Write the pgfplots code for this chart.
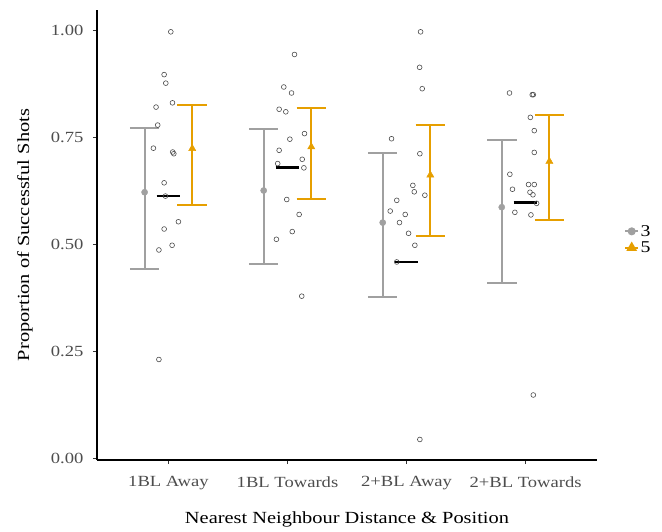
\documentclass[border=0pt]{standalone}
\usepackage{pgfplots}
\pgfplotsset{compat=1.18}
\usepackage{fontspec}
\setmainfont{Liberation Serif}[FakeStretch=1.2]
\definecolor{grey3}{HTML}{A0A0A0}
\definecolor{orange5}{HTML}{E69F00}
\definecolor{ticktext}{HTML}{4D4D4D}

\begin{document}
\begin{tikzpicture}
% fixes the page to the reference's 662 x 531 frame
\path (-97pt,-71pt) rectangle (565pt,460pt);
\begin{axis}[
  at={(0pt,0pt)}, anchor=south west,
  width=500pt, height=450pt, scale only axis,
  xmin=0.4, xmax=4.6, ymin=-0.004, ymax=1.048,
  axis lines*=left,
  axis line style={line width=1.2pt, black},
  xtick={1,2,3,4},
  xticklabels={1BL Away,1BL Towards,2+BL Away,2+BL Towards},
  ytick={0,0.25,0.5,0.75,1},
  tick align=outside, major tick length=4pt,
  tick style={line width=0.8pt, black!80},
  /pgf/number format/assume math mode=true,
  yticklabel style={/pgf/number format/.cd, fixed, fixed zerofill, precision=2,
    /tikz/.cd, xshift=-6pt},
  xticklabel style={yshift=-9pt},
  ticklabel style={font=\fontsize{15.5}{18}\selectfont, text=ticktext},
  xlabel={Nearest Neighbour Distance \& Position},
  ylabel={Proportion of Successful Shots},
  label style={font=\fontsize{17}{20}\selectfont},
  xlabel style={at={(axis description cs:0.5,-0.132)}, anchor=center},
  ylabel style={at={(axis description cs:-0.144,0.5)}, anchor=center},
  legend style={at={(axis description cs:1.054,0.49)}, anchor=west,
    draw=none, fill=none, inner sep=0pt, row sep=1pt,
    font=\fontsize{16.5}{18}\selectfont,
    nodes={inner sep=1.5pt}},
  legend cell align=left,
  legend image code/.code={%
    \draw[mark repeat=2, mark phase=2, #1] plot coordinates {(0pt,0pt) (6.5pt,0pt) (13pt,0pt)};},
  clip=false,
]
% confidence intervals, group 3: whisker, upper cap, lower cap
\addplot[grey3, line width=2pt, unbounded coords=jump, forget plot]
  coordinates {
  (0.8,0.4416) (0.8,0.773) (0.8,nan) (0.676,0.773) (0.924,0.773) (0.9,nan) (0.676,0.4416) (0.924,0.4416) (0.9,nan)
  (1.8,0.454) (1.8,0.770) (1.8,nan) (1.676,0.770) (1.924,0.770) (1.9,nan) (1.676,0.454) (1.924,0.454) (1.9,nan)
  (2.8,0.377) (2.8,0.713) (2.8,nan) (2.676,0.713) (2.924,0.713) (2.9,nan) (2.676,0.377) (2.924,0.377) (2.9,nan)
  (3.8,0.410) (3.8,0.743) (3.8,nan) (3.676,0.743) (3.924,0.743) (3.9,nan) (3.676,0.410) (3.924,0.410)};
% group 5
\addplot[orange5, line width=2pt, unbounded coords=jump, forget plot]
  coordinates {
  (1.2,0.591) (1.2,0.825) (1.2,nan) (1.076,0.825) (1.324,0.825) (1.3,nan) (1.076,0.591) (1.324,0.591) (1.3,nan)
  (2.2,0.607) (2.2,0.819) (2.2,nan) (2.076,0.819) (2.324,0.819) (2.3,nan) (2.076,0.607) (2.324,0.607) (2.3,nan)
  (3.2,0.520) (3.2,0.778) (3.2,nan) (3.076,0.778) (3.324,0.778) (3.3,nan) (3.076,0.520) (3.324,0.520) (3.3,nan)
  (4.2,0.556) (4.2,0.802) (4.2,nan) (4.076,0.802) (4.324,0.802) (4.3,nan) (4.076,0.556) (4.324,0.556)};
% means
\addplot[grey3, only marks, mark=*, mark size=3.1pt, forget plot]
  coordinates {(0.8,0.622) (1.8,0.626) (2.8,0.551) (3.8,0.587)};
\addplot[orange5, only marks, mark=triangle*, mark size=4.2pt, forget plot]
  coordinates {(1.2,0.724) (2.2,0.728) (3.2,0.662) (4.2,0.694)};
% medians
\addplot[black, line width=2.6pt, unbounded coords=jump, forget plot]
  coordinates {(0.9,0.613) (1.1,0.613) (1.1,nan)
               (1.9,0.680) (2.1,0.680) (2.1,nan)
               (2.9,0.459) (3.1,0.459) (3.1,nan)
               (3.9,0.598) (4.1,0.598)};
% individual proportions (jittered)
\addplot[only marks, mark=o, mark size=2.4pt, black!70,
  mark options={line width=0.6pt}, forget plot] table {
x y
1.020 0.997
0.964 0.897
0.978 0.877
1.034 0.831
0.896 0.821
0.910 0.779
0.874 0.725
1.036 0.716
1.045 0.712
0.964 0.644
0.975 0.613
1.084 0.553
0.964 0.536
1.031 0.498
0.920 0.487
0.920 0.231
2.059 0.944
1.969 0.868
2.034 0.854
1.930 0.816
1.986 0.810
2.143 0.759
2.020 0.746
1.930 0.720
2.124 0.699
1.918 0.689
2.138 0.679
1.994 0.605
2.098 0.570
2.040 0.530
1.907 0.512
2.120 0.379
3.118 0.997
3.110 0.914
3.132 0.864
2.874 0.747
3.112 0.712
3.053 0.638
3.065 0.623
3.154 0.615
2.918 0.603
2.863 0.578
2.989 0.570
2.941 0.551
3.017 0.526
3.070 0.498
2.918 0.459
3.112 0.044
3.865 0.854
4.056 0.850
4.065 0.850
4.040 0.797
4.073 0.766
4.073 0.715
3.868 0.664
4.025 0.640
4.073 0.640
3.890 0.629
4.037 0.622
4.062 0.616
4.093 0.596
3.910 0.575
4.045 0.569
4.065 0.148
};
\addlegendimage{grey3, line width=2pt, mark=*, mark size=3pt}
\addlegendentry{3}
\addlegendimage{orange5, line width=2pt, mark=triangle*, mark size=4.2pt}
\addlegendentry{5}
\end{axis}
\end{tikzpicture}
\end{document}
